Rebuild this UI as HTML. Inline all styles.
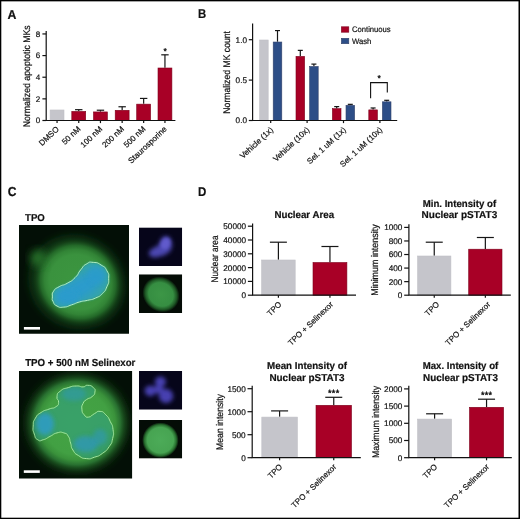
<!DOCTYPE html>
<html><head><meta charset="utf-8"><title>Figure</title>
<style>
html,body{margin:0;padding:0;background:#fff;}
body{width:520px;height:519px;overflow:hidden;position:relative;}
svg{position:absolute;left:0;top:0;display:block;filter:blur(0.35px);}
svg text{font-family:"Liberation Sans", sans-serif;fill:#111;stroke:#111;stroke-width:0.2px;text-rendering:geometricPrecision;}
.frame{position:absolute;left:0;top:0;width:520px;height:519px;box-sizing:border-box;border-style:solid;border-color:#000;border-width:1.4px 1.6px 1.4px 1.2px;}
</style></head><body>
<svg width="520" height="519" viewBox="0 0 520 519">

<defs>
<filter id="b1" x="-30%" y="-30%" width="160%" height="160%"><feGaussianBlur stdDeviation="1.2"/></filter>
<filter id="b2" x="-30%" y="-30%" width="160%" height="160%"><feGaussianBlur stdDeviation="2.2"/></filter>
<filter id="b3" x="-30%" y="-30%" width="160%" height="160%"><feGaussianBlur stdDeviation="4"/></filter>
<filter id="b15" x="-30%" y="-30%" width="160%" height="160%"><feGaussianBlur stdDeviation="1.6"/></filter>
<filter id="b5" x="-40%" y="-40%" width="180%" height="180%"><feGaussianBlur stdDeviation="5"/></filter>
<filter id="b05" x="-30%" y="-30%" width="160%" height="160%"><feGaussianBlur stdDeviation="0.45"/></filter>
<radialGradient id="g1" cx="50%" cy="50%" r="50%">
<stop offset="0" stop-color="#3c9640"/><stop offset="0.58" stop-color="#3a923e"/><stop offset="0.69" stop-color="#328436"/><stop offset="0.78" stop-color="#236828"/><stop offset="0.87" stop-color="#123c16" stop-opacity="0.7"/><stop offset="0.95" stop-color="#071e0b" stop-opacity="0.3"/><stop offset="1" stop-color="#030f06" stop-opacity="0"/>
</radialGradient>
<radialGradient id="g2" cx="50%" cy="50%" r="50%">
<stop offset="0" stop-color="#44a445"/><stop offset="0.6" stop-color="#42a043"/><stop offset="0.7" stop-color="#3a923b"/><stop offset="0.79" stop-color="#287030"/><stop offset="0.87" stop-color="#15441a" stop-opacity="0.7"/><stop offset="0.95" stop-color="#08220c" stop-opacity="0.3"/><stop offset="1" stop-color="#030f06" stop-opacity="0"/>
</radialGradient>
<radialGradient id="gs" cx="50%" cy="50%" r="50%">
<stop offset="0" stop-color="#3c9646"/><stop offset="0.66" stop-color="#368e42"/><stop offset="0.85" stop-color="#1d5624"/><stop offset="1" stop-color="#040c06"/>
</radialGradient>
<radialGradient id="gs2" cx="50%" cy="50%" r="50%">
<stop offset="0" stop-color="#4cab58"/><stop offset="0.72" stop-color="#47a452"/><stop offset="0.87" stop-color="#276e2e"/><stop offset="1" stop-color="#040c06"/>
</radialGradient>
<clipPath id="c1"><rect x="19" y="225.1" width="110" height="108.7"/></clipPath>
<clipPath id="c2"><rect x="19" y="370.9" width="113.1" height="107.6"/></clipPath>
<clipPath id="c3"><rect x="139" y="227.4" width="43.2" height="38.6"/></clipPath>
<clipPath id="c4"><rect x="139" y="274.3" width="43.2" height="38.8"/></clipPath>
<clipPath id="c5"><rect x="139" y="371" width="43.2" height="38.7"/></clipPath>
<clipPath id="c6"><rect x="139" y="419.9" width="43.2" height="38.7"/></clipPath>
<clipPath id="n1"><path d="M52.4 296.9C52.6 293.5 51.3 294.6 53.6 291.2C55.8 287.8 54.7 289.3 59.2 286.7C63.8 284.0 61.9 286.3 67.2 283.3C72.5 280.2 70.6 282.1 75.1 277.6C79.7 273.1 77.0 274.2 80.8 269.7C84.6 265.1 82.3 266.4 86.5 264.0C90.6 261.6 88.4 262.0 93.3 262.4C98.2 262.8 96.7 262.3 101.2 265.1C105.8 267.9 104.4 266.2 106.9 270.8C109.4 275.3 108.7 273.4 108.7 278.7C108.7 284.0 109.0 281.8 106.9 286.7C104.8 291.6 106.1 289.7 102.4 293.5C98.6 297.3 100.5 295.7 95.6 298.0C90.6 300.3 92.9 299.0 87.6 300.3C82.3 301.6 85.0 300.4 79.7 301.9C74.4 303.4 77.0 303.1 71.7 304.8C66.4 306.6 68.7 306.7 63.8 307.1C58.9 307.5 60.5 307.8 57.0 306.0C53.4 304.1 54.6 304.4 53.1 301.4C51.6 298.4 52.3 300.3 52.4 296.9Z"/></clipPath><clipPath id="n2"><path d="M57.0 396.6C57.6 392.9 56.6 394.0 60.4 391.0C64.2 387.9 63.0 389.2 68.3 387.6C73.6 385.9 71.3 386.2 76.3 386.0C81.2 385.7 79.3 387.1 83.1 386.9C86.9 386.6 84.2 385.1 87.6 385.3C91.0 385.5 90.9 385.3 93.3 387.6C95.7 389.8 95.3 389.1 94.9 392.1C94.5 395.1 94.9 394.1 92.1 396.6C89.4 399.1 89.5 397.3 86.5 399.6C83.5 401.9 84.6 400.3 83.1 403.4C81.6 406.6 81.6 405.3 81.9 409.1C82.3 412.9 81.9 412.1 84.2 414.8C86.5 417.4 85.3 417.4 88.7 417.1C92.1 416.7 90.6 415.5 94.4 413.7C98.2 411.8 96.3 411.0 100.1 411.4C103.9 411.8 102.4 411.4 105.8 414.8C109.2 418.2 107.9 416.7 110.3 421.6C112.7 426.5 112.3 423.9 113.0 429.5C113.8 435.2 113.9 432.9 112.6 438.6C111.3 444.3 112.6 441.6 109.2 446.6C105.8 451.5 107.3 449.8 102.4 453.4C97.4 456.9 99.7 455.5 94.4 457.2C89.1 459.0 91.8 459.1 86.5 458.6C81.2 458.1 83.1 458.5 78.5 455.6C74.0 452.8 75.5 454.1 72.9 450.0C70.2 445.8 72.1 447.7 70.6 443.1C69.1 438.6 70.6 439.7 68.3 436.3C66.1 432.9 67.6 434.1 63.8 432.9C60.0 431.8 61.5 431.8 57.0 432.9C52.4 434.1 54.7 434.1 50.2 436.3C45.6 438.6 47.5 438.6 43.4 439.7C39.2 440.9 40.7 441.6 37.7 439.7C34.7 437.9 35.8 438.6 34.3 434.1C32.8 429.5 32.8 431.4 33.2 426.1C33.5 420.8 32.8 422.7 35.4 418.2C38.1 413.7 36.6 415.5 41.1 412.5C45.6 409.5 44.1 411.0 49.0 409.1C54.0 407.2 52.7 409.1 55.8 406.8C59.0 404.6 58.2 405.7 58.6 402.3C58.9 398.9 56.4 400.4 57.0 396.6Z"/></clipPath></defs>

<text x="7.60" y="19.00" font-size="12.8" font-weight="bold" text-anchor="start" textLength="8.9" lengthAdjust="spacingAndGlyphs">A</text>
<text x="197.90" y="17.70" font-size="12.8" font-weight="bold" text-anchor="start" textLength="8.2" lengthAdjust="spacingAndGlyphs">B</text>
<text x="7.70" y="195.90" font-size="13.0" font-weight="bold" text-anchor="start" textLength="8.7" lengthAdjust="spacingAndGlyphs">C</text>
<text x="197.90" y="195.80" font-size="12.8" font-weight="bold" text-anchor="start" textLength="8.3" lengthAdjust="spacingAndGlyphs">D</text>
<rect x="50.10" y="109.98" width="13.90" height="10.52" fill="#c5c5cb" stroke="#c0c0c6" stroke-width="0.6"/>
<line x1="78.75" y1="111.09" x2="78.75" y2="109.68" stroke="#161616" stroke-width="1.2"/>
<line x1="75.05" y1="109.68" x2="82.45" y2="109.68" stroke="#161616" stroke-width="1.2"/>
<rect x="71.80" y="111.39" width="13.90" height="9.11" fill="#a80026" stroke="#7d001c" stroke-width="0.6"/>
<line x1="100.45" y1="111.63" x2="100.45" y2="110.22" stroke="#161616" stroke-width="1.2"/>
<line x1="96.75" y1="110.22" x2="104.15" y2="110.22" stroke="#161616" stroke-width="1.2"/>
<rect x="93.50" y="111.93" width="13.90" height="8.57" fill="#a80026" stroke="#7d001c" stroke-width="0.6"/>
<line x1="122.15" y1="110.00" x2="122.15" y2="106.76" stroke="#161616" stroke-width="1.2"/>
<line x1="118.45" y1="106.76" x2="125.85" y2="106.76" stroke="#161616" stroke-width="1.2"/>
<rect x="115.20" y="110.30" width="13.90" height="10.20" fill="#a80026" stroke="#7d001c" stroke-width="0.6"/>
<line x1="143.65" y1="103.84" x2="143.65" y2="98.43" stroke="#161616" stroke-width="1.2"/>
<line x1="139.95" y1="98.43" x2="147.35" y2="98.43" stroke="#161616" stroke-width="1.2"/>
<rect x="136.70" y="104.14" width="13.90" height="16.36" fill="#a80026" stroke="#7d001c" stroke-width="0.6"/>
<line x1="164.95" y1="67.70" x2="164.95" y2="54.82" stroke="#161616" stroke-width="1.2"/>
<line x1="161.25" y1="54.82" x2="168.65" y2="54.82" stroke="#161616" stroke-width="1.2"/>
<rect x="158.00" y="68.00" width="13.90" height="52.50" fill="#a80026" stroke="#7d001c" stroke-width="0.6"/>
<path d="M46.20 31.00V120.50H175.40" fill="none" stroke="#111" stroke-width="1.2"/>
<line x1="42.40" y1="120.50" x2="46.20" y2="120.50" stroke="#111" stroke-width="1.2"/>
<text x="40.10" y="123.38" font-size="8" text-anchor="end">0</text>
<line x1="42.40" y1="98.86" x2="46.20" y2="98.86" stroke="#111" stroke-width="1.2"/>
<text x="40.10" y="101.74" font-size="8" text-anchor="end">2</text>
<line x1="42.40" y1="77.22" x2="46.20" y2="77.22" stroke="#111" stroke-width="1.2"/>
<text x="40.10" y="80.10" font-size="8" text-anchor="end">4</text>
<line x1="42.40" y1="55.58" x2="46.20" y2="55.58" stroke="#111" stroke-width="1.2"/>
<text x="40.10" y="58.46" font-size="8" text-anchor="end">6</text>
<line x1="42.40" y1="33.94" x2="46.20" y2="33.94" stroke="#111" stroke-width="1.2"/>
<text x="40.10" y="36.82" font-size="8" text-anchor="end">8</text>
<line x1="57.05" y1="120.50" x2="57.05" y2="123.10" stroke="#111" stroke-width="1.2"/>
<text transform="translate(59.45 129.70) rotate(-43.5)" font-size="8" text-anchor="end">DMSO</text>
<line x1="78.75" y1="120.50" x2="78.75" y2="123.10" stroke="#111" stroke-width="1.2"/>
<text transform="translate(81.15 129.70) rotate(-43.5)" font-size="8" text-anchor="end">50 nM</text>
<line x1="100.45" y1="120.50" x2="100.45" y2="123.10" stroke="#111" stroke-width="1.2"/>
<text transform="translate(102.85 129.70) rotate(-43.5)" font-size="8" text-anchor="end">100 nM</text>
<line x1="122.15" y1="120.50" x2="122.15" y2="123.10" stroke="#111" stroke-width="1.2"/>
<text transform="translate(124.55 129.70) rotate(-43.5)" font-size="8" text-anchor="end">200 nM</text>
<line x1="143.65" y1="120.50" x2="143.65" y2="123.10" stroke="#111" stroke-width="1.2"/>
<text transform="translate(146.05 129.70) rotate(-43.5)" font-size="8" text-anchor="end">500 nM</text>
<line x1="164.95" y1="120.50" x2="164.95" y2="123.10" stroke="#111" stroke-width="1.2"/>
<text transform="translate(167.35 129.70) rotate(-43.5)" font-size="8" text-anchor="end">Staurosporine</text>
<text transform="translate(30.10 76.30) rotate(-90)" font-size="9.7" text-anchor="middle" textLength="102.0" lengthAdjust="spacingAndGlyphs">Normalized apoptotic MKs</text>
<text x="165.2" y="53.7" font-size="8.5" text-anchor="middle" style="stroke-width:0.35px">*</text>
<rect x="259.60" y="40.00" width="8.60" height="80.50" fill="#c5c5cb" stroke="#c0c0c6" stroke-width="0.6"/>
<line x1="277.50" y1="41.72" x2="277.50" y2="30.57" stroke="#161616" stroke-width="1.2"/>
<line x1="275.00" y1="30.57" x2="280.00" y2="30.57" stroke="#161616" stroke-width="1.2"/>
<rect x="273.20" y="42.02" width="8.60" height="78.48" fill="#2d4e87" stroke="#33436b" stroke-width="0.6"/>
<line x1="300.30" y1="56.10" x2="300.30" y2="50.37" stroke="#161616" stroke-width="1.2"/>
<line x1="297.80" y1="50.37" x2="302.80" y2="50.37" stroke="#161616" stroke-width="1.2"/>
<rect x="296.00" y="56.40" width="8.60" height="64.10" fill="#a80026" stroke="#7d001c" stroke-width="0.6"/>
<line x1="313.90" y1="66.20" x2="313.90" y2="64.10" stroke="#161616" stroke-width="1.2"/>
<line x1="311.40" y1="64.10" x2="316.40" y2="64.10" stroke="#161616" stroke-width="1.2"/>
<rect x="309.60" y="66.50" width="8.60" height="54.00" fill="#2d4e87" stroke="#33436b" stroke-width="0.6"/>
<line x1="336.70" y1="108.38" x2="336.70" y2="106.60" stroke="#161616" stroke-width="1.2"/>
<line x1="334.20" y1="106.60" x2="339.20" y2="106.60" stroke="#161616" stroke-width="1.2"/>
<rect x="332.40" y="108.68" width="8.60" height="11.82" fill="#a80026" stroke="#7d001c" stroke-width="0.6"/>
<line x1="350.30" y1="104.99" x2="350.30" y2="104.34" stroke="#161616" stroke-width="1.2"/>
<line x1="347.80" y1="104.34" x2="352.80" y2="104.34" stroke="#161616" stroke-width="1.2"/>
<rect x="346.00" y="105.29" width="8.60" height="15.21" fill="#2d4e87" stroke="#33436b" stroke-width="0.6"/>
<line x1="373.10" y1="109.59" x2="373.10" y2="107.98" stroke="#161616" stroke-width="1.2"/>
<line x1="370.60" y1="107.98" x2="375.60" y2="107.98" stroke="#161616" stroke-width="1.2"/>
<rect x="368.80" y="109.89" width="8.60" height="10.61" fill="#a80026" stroke="#7d001c" stroke-width="0.6"/>
<line x1="386.70" y1="101.51" x2="386.70" y2="100.30" stroke="#161616" stroke-width="1.2"/>
<line x1="384.20" y1="100.30" x2="389.20" y2="100.30" stroke="#161616" stroke-width="1.2"/>
<rect x="382.40" y="101.81" width="8.60" height="18.69" fill="#2d4e87" stroke="#33436b" stroke-width="0.6"/>
<path d="M252.60 23.60V120.50H397.20" fill="none" stroke="#111" stroke-width="1.2"/>
<line x1="248.80" y1="120.50" x2="252.60" y2="120.50" stroke="#111" stroke-width="1.2"/>
<text x="247.00" y="123.45" font-size="8.2" text-anchor="end">0.0</text>
<line x1="248.80" y1="80.10" x2="252.60" y2="80.10" stroke="#111" stroke-width="1.2"/>
<text x="247.00" y="83.05" font-size="8.2" text-anchor="end">0.5</text>
<line x1="248.80" y1="39.70" x2="252.60" y2="39.70" stroke="#111" stroke-width="1.2"/>
<text x="247.00" y="42.65" font-size="8.2" text-anchor="end">1.0</text>
<line x1="270.70" y1="120.50" x2="270.70" y2="123.10" stroke="#111" stroke-width="1.2"/>
<text transform="translate(273.60 130.50) rotate(-43)" font-size="8" text-anchor="end">Vehicle (1x)</text>
<line x1="307.10" y1="120.50" x2="307.10" y2="123.10" stroke="#111" stroke-width="1.2"/>
<text transform="translate(310.00 130.50) rotate(-43)" font-size="8" text-anchor="end">Vehicle (10x)</text>
<line x1="343.50" y1="120.50" x2="343.50" y2="123.10" stroke="#111" stroke-width="1.2"/>
<text transform="translate(346.40 130.50) rotate(-43)" font-size="8" text-anchor="end">Sel. 1 uM (1x)</text>
<line x1="379.90" y1="120.50" x2="379.90" y2="123.10" stroke="#111" stroke-width="1.2"/>
<text transform="translate(382.80 130.50) rotate(-43)" font-size="8" text-anchor="end">Sel. 1 uM (10x)</text>
<text transform="translate(229.60 72.35) rotate(-90)" font-size="9.7" text-anchor="middle" textLength="82.6" lengthAdjust="spacingAndGlyphs">Normalized MK count</text>
<rect x="341.4" y="26.8" width="7.4" height="5.4" fill="#a80026" stroke="#7d001c" stroke-width="0.6"/>
<rect x="341.4" y="38.3" width="7.4" height="5.4" fill="#2d4e87" stroke="#33436b" stroke-width="0.6"/>
<text x="352" y="32.1" font-size="8" textLength="38.7" lengthAdjust="spacingAndGlyphs">Continuous</text>
<text x="352" y="43.8" font-size="8" textLength="19.4" lengthAdjust="spacingAndGlyphs">Wash</text>
<path d="M370.6 98.2V82.6H387.3V92.5" fill="none" stroke="#111" stroke-width="1.1"/>
<text x="379.1" y="81.4" font-size="8.5" text-anchor="middle" style="stroke-width:0.35px">*</text>
<line x1="278.40" y1="259.70" x2="278.40" y2="242.20" stroke="#161616" stroke-width="1.2"/>
<line x1="269.90" y1="242.20" x2="286.90" y2="242.20" stroke="#161616" stroke-width="1.2"/>
<rect x="261.60" y="260.00" width="33.60" height="35.20" fill="#c5c5cb" stroke="#c0c0c6" stroke-width="0.6"/>
<line x1="329.95" y1="262.20" x2="329.95" y2="246.50" stroke="#161616" stroke-width="1.2"/>
<line x1="321.45" y1="246.50" x2="338.45" y2="246.50" stroke="#161616" stroke-width="1.2"/>
<rect x="313.00" y="262.50" width="33.90" height="32.70" fill="#a80026" stroke="#7d001c" stroke-width="0.6"/>
<path d="M252.60 223.60V295.20H356.00" fill="none" stroke="#111" stroke-width="1.2"/>
<line x1="247.90" y1="295.20" x2="252.60" y2="295.20" stroke="#111" stroke-width="1.2"/>
<text x="246.10" y="298.15" font-size="8.2" text-anchor="end">0</text>
<line x1="247.90" y1="281.40" x2="252.60" y2="281.40" stroke="#111" stroke-width="1.2"/>
<text x="246.10" y="284.35" font-size="8.2" text-anchor="end">10000</text>
<line x1="247.90" y1="267.60" x2="252.60" y2="267.60" stroke="#111" stroke-width="1.2"/>
<text x="246.10" y="270.55" font-size="8.2" text-anchor="end">20000</text>
<line x1="247.90" y1="253.80" x2="252.60" y2="253.80" stroke="#111" stroke-width="1.2"/>
<text x="246.10" y="256.75" font-size="8.2" text-anchor="end">30000</text>
<line x1="247.90" y1="240.00" x2="252.60" y2="240.00" stroke="#111" stroke-width="1.2"/>
<text x="246.10" y="242.95" font-size="8.2" text-anchor="end">40000</text>
<line x1="247.90" y1="226.20" x2="252.60" y2="226.20" stroke="#111" stroke-width="1.2"/>
<text x="246.10" y="229.15" font-size="8.2" text-anchor="end">50000</text>
<line x1="278.40" y1="295.20" x2="278.40" y2="297.80" stroke="#111" stroke-width="1.2"/>
<text transform="translate(282.10 305.00) rotate(-44)" font-size="8" text-anchor="end">TPO</text>
<line x1="329.95" y1="295.20" x2="329.95" y2="297.80" stroke="#111" stroke-width="1.2"/>
<text transform="translate(333.65 305.00) rotate(-44)" font-size="8" text-anchor="end">TPO + Selinexor</text>
<text transform="translate(218.40 259.05) rotate(-90)" font-size="9.7" text-anchor="middle" textLength="47.0" lengthAdjust="spacingAndGlyphs">Nuclear area</text>
<text x="304.30" y="218.20" font-size="10" font-weight="bold" text-anchor="middle" textLength="59.6" lengthAdjust="spacingAndGlyphs">Nuclear Area</text>
<line x1="434.25" y1="255.70" x2="434.25" y2="242.20" stroke="#161616" stroke-width="1.2"/>
<line x1="425.75" y1="242.20" x2="442.75" y2="242.20" stroke="#161616" stroke-width="1.2"/>
<rect x="417.60" y="256.00" width="33.30" height="39.20" fill="#c5c5cb" stroke="#c0c0c6" stroke-width="0.6"/>
<line x1="485.35" y1="248.90" x2="485.35" y2="237.50" stroke="#161616" stroke-width="1.2"/>
<line x1="476.85" y1="237.50" x2="493.85" y2="237.50" stroke="#161616" stroke-width="1.2"/>
<rect x="468.70" y="249.20" width="33.30" height="46.00" fill="#a80026" stroke="#7d001c" stroke-width="0.6"/>
<path d="M408.90 224.20V295.20H510.80" fill="none" stroke="#111" stroke-width="1.2"/>
<line x1="404.20" y1="295.20" x2="408.90" y2="295.20" stroke="#111" stroke-width="1.2"/>
<text x="402.40" y="298.15" font-size="8.2" text-anchor="end">0</text>
<line x1="404.20" y1="281.64" x2="408.90" y2="281.64" stroke="#111" stroke-width="1.2"/>
<text x="402.40" y="284.59" font-size="8.2" text-anchor="end">200</text>
<line x1="404.20" y1="268.08" x2="408.90" y2="268.08" stroke="#111" stroke-width="1.2"/>
<text x="402.40" y="271.03" font-size="8.2" text-anchor="end">400</text>
<line x1="404.20" y1="254.52" x2="408.90" y2="254.52" stroke="#111" stroke-width="1.2"/>
<text x="402.40" y="257.47" font-size="8.2" text-anchor="end">600</text>
<line x1="404.20" y1="240.96" x2="408.90" y2="240.96" stroke="#111" stroke-width="1.2"/>
<text x="402.40" y="243.91" font-size="8.2" text-anchor="end">800</text>
<line x1="404.20" y1="227.40" x2="408.90" y2="227.40" stroke="#111" stroke-width="1.2"/>
<text x="402.40" y="230.35" font-size="8.2" text-anchor="end">1000</text>
<line x1="434.25" y1="295.20" x2="434.25" y2="297.80" stroke="#111" stroke-width="1.2"/>
<text transform="translate(439.75 305.00) rotate(-44)" font-size="8" text-anchor="end">TPO</text>
<line x1="485.35" y1="295.20" x2="485.35" y2="297.80" stroke="#111" stroke-width="1.2"/>
<text transform="translate(490.85 305.00) rotate(-44)" font-size="8" text-anchor="end">TPO + Selinexor</text>
<text transform="translate(378.30 260.05) rotate(-90)" font-size="9.7" text-anchor="middle" textLength="71.4" lengthAdjust="spacingAndGlyphs">Minimum intensity</text>
<text x="459.40" y="206.50" font-size="10" font-weight="bold" text-anchor="middle" textLength="73.4" lengthAdjust="spacingAndGlyphs">Min. Intensity of</text>
<text x="459.40" y="218.10" font-size="10" font-weight="bold" text-anchor="middle" textLength="75.6" lengthAdjust="spacingAndGlyphs">Nuclear pSTAT3</text>
<line x1="279.60" y1="416.80" x2="279.60" y2="410.90" stroke="#161616" stroke-width="1.2"/>
<line x1="271.10" y1="410.90" x2="288.10" y2="410.90" stroke="#161616" stroke-width="1.2"/>
<rect x="261.80" y="417.10" width="35.60" height="40.60" fill="#c5c5cb" stroke="#c0c0c6" stroke-width="0.6"/>
<line x1="333.75" y1="405.00" x2="333.75" y2="397.30" stroke="#161616" stroke-width="1.2"/>
<line x1="325.25" y1="397.30" x2="342.25" y2="397.30" stroke="#161616" stroke-width="1.2"/>
<rect x="316.00" y="405.30" width="35.50" height="52.40" fill="#a80026" stroke="#7d001c" stroke-width="0.6"/>
<path d="M252.20 385.80V457.70H360.80" fill="none" stroke="#111" stroke-width="1.2"/>
<line x1="247.50" y1="457.70" x2="252.20" y2="457.70" stroke="#111" stroke-width="1.2"/>
<text x="245.70" y="460.65" font-size="8.2" text-anchor="end">0</text>
<line x1="247.50" y1="434.70" x2="252.20" y2="434.70" stroke="#111" stroke-width="1.2"/>
<text x="245.70" y="437.65" font-size="8.2" text-anchor="end">500</text>
<line x1="247.50" y1="411.70" x2="252.20" y2="411.70" stroke="#111" stroke-width="1.2"/>
<text x="245.70" y="414.65" font-size="8.2" text-anchor="end">1000</text>
<line x1="247.50" y1="388.70" x2="252.20" y2="388.70" stroke="#111" stroke-width="1.2"/>
<text x="245.70" y="391.65" font-size="8.2" text-anchor="end">1500</text>
<line x1="279.60" y1="457.70" x2="279.60" y2="460.30" stroke="#111" stroke-width="1.2"/>
<text transform="translate(282.80 467.50) rotate(-44)" font-size="8" text-anchor="end">TPO</text>
<line x1="333.75" y1="457.70" x2="333.75" y2="460.30" stroke="#111" stroke-width="1.2"/>
<text transform="translate(336.95 467.50) rotate(-44)" font-size="8" text-anchor="end">TPO + Selinexor</text>
<text transform="translate(222.60 422.00) rotate(-90)" font-size="9.7" text-anchor="middle" textLength="55.9" lengthAdjust="spacingAndGlyphs">Mean intensity</text>
<text x="307.00" y="368.90" font-size="10" font-weight="bold" text-anchor="middle" textLength="79.8" lengthAdjust="spacingAndGlyphs">Mean Intensity of</text>
<text x="307.00" y="380.70" font-size="10" font-weight="bold" text-anchor="middle" textLength="75.2" lengthAdjust="spacingAndGlyphs">Nuclear pSTAT3</text>
<text x="333.8" y="396.0" font-size="9" text-anchor="middle" style="stroke-width:0.4px;letter-spacing:0.35px">***</text>
<line x1="434.60" y1="418.80" x2="434.60" y2="413.80" stroke="#161616" stroke-width="1.2"/>
<line x1="426.10" y1="413.80" x2="443.10" y2="413.80" stroke="#161616" stroke-width="1.2"/>
<rect x="417.60" y="419.10" width="34.00" height="38.60" fill="#c5c5cb" stroke="#c0c0c6" stroke-width="0.6"/>
<line x1="486.55" y1="407.00" x2="486.55" y2="399.20" stroke="#161616" stroke-width="1.2"/>
<line x1="478.05" y1="399.20" x2="495.05" y2="399.20" stroke="#161616" stroke-width="1.2"/>
<rect x="469.50" y="407.30" width="34.10" height="50.40" fill="#a80026" stroke="#7d001c" stroke-width="0.6"/>
<path d="M408.80 385.80V457.70H511.80" fill="none" stroke="#111" stroke-width="1.2"/>
<line x1="404.10" y1="457.70" x2="408.80" y2="457.70" stroke="#111" stroke-width="1.2"/>
<text x="402.30" y="460.65" font-size="8.2" text-anchor="end">0</text>
<line x1="404.10" y1="440.50" x2="408.80" y2="440.50" stroke="#111" stroke-width="1.2"/>
<text x="402.30" y="443.45" font-size="8.2" text-anchor="end">500</text>
<line x1="404.10" y1="423.30" x2="408.80" y2="423.30" stroke="#111" stroke-width="1.2"/>
<text x="402.30" y="426.25" font-size="8.2" text-anchor="end">1000</text>
<line x1="404.10" y1="406.10" x2="408.80" y2="406.10" stroke="#111" stroke-width="1.2"/>
<text x="402.30" y="409.05" font-size="8.2" text-anchor="end">1500</text>
<line x1="404.10" y1="388.90" x2="408.80" y2="388.90" stroke="#111" stroke-width="1.2"/>
<text x="402.30" y="391.85" font-size="8.2" text-anchor="end">2000</text>
<line x1="434.60" y1="457.70" x2="434.60" y2="460.30" stroke="#111" stroke-width="1.2"/>
<text transform="translate(437.80 467.50) rotate(-44)" font-size="8" text-anchor="end">TPO</text>
<line x1="486.55" y1="457.70" x2="486.55" y2="460.30" stroke="#111" stroke-width="1.2"/>
<text transform="translate(489.75 467.50) rotate(-44)" font-size="8" text-anchor="end">TPO + Selinexor</text>
<text transform="translate(378.70 421.95) rotate(-90)" font-size="9.7" text-anchor="middle" textLength="72.2" lengthAdjust="spacingAndGlyphs">Maximum intensity</text>
<text x="460.50" y="368.90" font-size="10" font-weight="bold" text-anchor="middle" textLength="75.6" lengthAdjust="spacingAndGlyphs">Max. Intensity of</text>
<text x="460.50" y="380.70" font-size="10" font-weight="bold" text-anchor="middle" textLength="74.8" lengthAdjust="spacingAndGlyphs">Nuclear pSTAT3</text>
<text x="486.7" y="397.9" font-size="9" text-anchor="middle" style="stroke-width:0.4px;letter-spacing:0.35px">***</text>
<text x="25.00" y="221.00" font-size="10.0" font-weight="bold" text-anchor="start" textLength="19.8" lengthAdjust="spacingAndGlyphs">TPO</text>
<text x="25.20" y="365.80" font-size="10.2" font-weight="bold" text-anchor="start" textLength="110.2" lengthAdjust="spacingAndGlyphs">TPO + 500 nM Selinexor</text>
<g clip-path="url(#c1)">
<rect x="19" y="225" width="111" height="109" fill="#030f06"/>
<ellipse cx="77" cy="282" rx="47" ry="43" transform="rotate(35 77 282)" fill="#184e1d" filter="url(#b5)"/>
<ellipse cx="78" cy="282" rx="49.5" ry="46" transform="rotate(35 78 282)" fill="url(#g1)"/>
<ellipse cx="38" cy="258" rx="8" ry="8.5" fill="#2a7a2e" opacity="0.85" filter="url(#b3)"/>
<path d="M52.4 296.9C52.6 293.5 51.3 294.6 53.6 291.2C55.8 287.8 54.7 289.3 59.2 286.7C63.8 284.0 61.9 286.3 67.2 283.3C72.5 280.2 70.6 282.1 75.1 277.6C79.7 273.1 77.0 274.2 80.8 269.7C84.6 265.1 82.3 266.4 86.5 264.0C90.6 261.6 88.4 262.0 93.3 262.4C98.2 262.8 96.7 262.3 101.2 265.1C105.8 267.9 104.4 266.2 106.9 270.8C109.4 275.3 108.7 273.4 108.7 278.7C108.7 284.0 109.0 281.8 106.9 286.7C104.8 291.6 106.1 289.7 102.4 293.5C98.6 297.3 100.5 295.7 95.6 298.0C90.6 300.3 92.9 299.0 87.6 300.3C82.3 301.6 85.0 300.4 79.7 301.9C74.4 303.4 77.0 303.1 71.7 304.8C66.4 306.6 68.7 306.7 63.8 307.1C58.9 307.5 60.5 307.8 57.0 306.0C53.4 304.1 54.6 304.4 53.1 301.4C51.6 298.4 52.3 300.3 52.4 296.9Z" fill="#36a4a8" filter="url(#b1)"/>
<g clip-path="url(#n1)"><ellipse cx="80" cy="288" rx="27" ry="11" transform="rotate(-30 80 288)" fill="#2a9bcc" filter="url(#b3)"/><ellipse cx="68" cy="296" rx="11" ry="7" fill="#2a9bcc" filter="url(#b2)"/><ellipse cx="96" cy="275" rx="9" ry="9" fill="#2a9bcc" opacity="0.8" filter="url(#b2)"/></g>
<path d="M52.4 296.9C52.6 293.5 51.3 294.6 53.6 291.2C55.8 287.8 54.7 289.3 59.2 286.7C63.8 284.0 61.9 286.3 67.2 283.3C72.5 280.2 70.6 282.1 75.1 277.6C79.7 273.1 77.0 274.2 80.8 269.7C84.6 265.1 82.3 266.4 86.5 264.0C90.6 261.6 88.4 262.0 93.3 262.4C98.2 262.8 96.7 262.3 101.2 265.1C105.8 267.9 104.4 266.2 106.9 270.8C109.4 275.3 108.7 273.4 108.7 278.7C108.7 284.0 109.0 281.8 106.9 286.7C104.8 291.6 106.1 289.7 102.4 293.5C98.6 297.3 100.5 295.7 95.6 298.0C90.6 300.3 92.9 299.0 87.6 300.3C82.3 301.6 85.0 300.4 79.7 301.9C74.4 303.4 77.0 303.1 71.7 304.8C66.4 306.6 68.7 306.7 63.8 307.1C58.9 307.5 60.5 307.8 57.0 306.0C53.4 304.1 54.6 304.4 53.1 301.4C51.6 298.4 52.3 300.3 52.4 296.9Z" fill="none" stroke="#b4f0c4" stroke-width="1.0" filter="url(#b05)"/>
<rect x="23.9" y="327.0" width="16.1" height="2.6" fill="#fff"/>
</g>
<g clip-path="url(#c2)">
<rect x="19" y="370" width="114" height="109" fill="#030f06"/>
<ellipse cx="77" cy="423" rx="50" ry="48" fill="#1a521f" filter="url(#b5)"/>
<ellipse cx="77" cy="423" rx="55" ry="53" fill="url(#g2)"/>
<g clip-path="url(#n2)"><path d="M57.0 396.6C57.6 392.9 56.6 394.0 60.4 391.0C64.2 387.9 63.0 389.2 68.3 387.6C73.6 385.9 71.3 386.2 76.3 386.0C81.2 385.7 79.3 387.1 83.1 386.9C86.9 386.6 84.2 385.1 87.6 385.3C91.0 385.5 90.9 385.3 93.3 387.6C95.7 389.8 95.3 389.1 94.9 392.1C94.5 395.1 94.9 394.1 92.1 396.6C89.4 399.1 89.5 397.3 86.5 399.6C83.5 401.9 84.6 400.3 83.1 403.4C81.6 406.6 81.6 405.3 81.9 409.1C82.3 412.9 81.9 412.1 84.2 414.8C86.5 417.4 85.3 417.4 88.7 417.1C92.1 416.7 90.6 415.5 94.4 413.7C98.2 411.8 96.3 411.0 100.1 411.4C103.9 411.8 102.4 411.4 105.8 414.8C109.2 418.2 107.9 416.7 110.3 421.6C112.7 426.5 112.3 423.9 113.0 429.5C113.8 435.2 113.9 432.9 112.6 438.6C111.3 444.3 112.6 441.6 109.2 446.6C105.8 451.5 107.3 449.8 102.4 453.4C97.4 456.9 99.7 455.5 94.4 457.2C89.1 459.0 91.8 459.1 86.5 458.6C81.2 458.1 83.1 458.5 78.5 455.6C74.0 452.8 75.5 454.1 72.9 450.0C70.2 445.8 72.1 447.7 70.6 443.1C69.1 438.6 70.6 439.7 68.3 436.3C66.1 432.9 67.6 434.1 63.8 432.9C60.0 431.8 61.5 431.8 57.0 432.9C52.4 434.1 54.7 434.1 50.2 436.3C45.6 438.6 47.5 438.6 43.4 439.7C39.2 440.9 40.7 441.6 37.7 439.7C34.7 437.9 35.8 438.6 34.3 434.1C32.8 429.5 32.8 431.4 33.2 426.1C33.5 420.8 32.8 422.7 35.4 418.2C38.1 413.7 36.6 415.5 41.1 412.5C45.6 409.5 44.1 411.0 49.0 409.1C54.0 407.2 52.7 409.1 55.8 406.8C59.0 404.6 58.2 405.7 58.6 402.3C58.9 398.9 56.4 400.4 57.0 396.6Z" fill="#34a078" opacity="0.7" filter="url(#b1)"/>
<ellipse cx="45" cy="424" rx="9" ry="11" fill="#2f9cc8" opacity="0.85" filter="url(#b2)"/>
<ellipse cx="86" cy="444" rx="12" ry="8" fill="#2f96c0" opacity="0.7" filter="url(#b2)"/>
<ellipse cx="100" cy="437" rx="7" ry="8" fill="#2f96c0" opacity="0.55" filter="url(#b2)"/>
<ellipse cx="74" cy="394" rx="12" ry="7" fill="#2f98b4" opacity="0.55" filter="url(#b2)"/></g>
<path d="M57.0 396.6C57.6 392.9 56.6 394.0 60.4 391.0C64.2 387.9 63.0 389.2 68.3 387.6C73.6 385.9 71.3 386.2 76.3 386.0C81.2 385.7 79.3 387.1 83.1 386.9C86.9 386.6 84.2 385.1 87.6 385.3C91.0 385.5 90.9 385.3 93.3 387.6C95.7 389.8 95.3 389.1 94.9 392.1C94.5 395.1 94.9 394.1 92.1 396.6C89.4 399.1 89.5 397.3 86.5 399.6C83.5 401.9 84.6 400.3 83.1 403.4C81.6 406.6 81.6 405.3 81.9 409.1C82.3 412.9 81.9 412.1 84.2 414.8C86.5 417.4 85.3 417.4 88.7 417.1C92.1 416.7 90.6 415.5 94.4 413.7C98.2 411.8 96.3 411.0 100.1 411.4C103.9 411.8 102.4 411.4 105.8 414.8C109.2 418.2 107.9 416.7 110.3 421.6C112.7 426.5 112.3 423.9 113.0 429.5C113.8 435.2 113.9 432.9 112.6 438.6C111.3 444.3 112.6 441.6 109.2 446.6C105.8 451.5 107.3 449.8 102.4 453.4C97.4 456.9 99.7 455.5 94.4 457.2C89.1 459.0 91.8 459.1 86.5 458.6C81.2 458.1 83.1 458.5 78.5 455.6C74.0 452.8 75.5 454.1 72.9 450.0C70.2 445.8 72.1 447.7 70.6 443.1C69.1 438.6 70.6 439.7 68.3 436.3C66.1 432.9 67.6 434.1 63.8 432.9C60.0 431.8 61.5 431.8 57.0 432.9C52.4 434.1 54.7 434.1 50.2 436.3C45.6 438.6 47.5 438.6 43.4 439.7C39.2 440.9 40.7 441.6 37.7 439.7C34.7 437.9 35.8 438.6 34.3 434.1C32.8 429.5 32.8 431.4 33.2 426.1C33.5 420.8 32.8 422.7 35.4 418.2C38.1 413.7 36.6 415.5 41.1 412.5C45.6 409.5 44.1 411.0 49.0 409.1C54.0 407.2 52.7 409.1 55.8 406.8C59.0 404.6 58.2 405.7 58.6 402.3C58.9 398.9 56.4 400.4 57.0 396.6Z" fill="none" stroke="#a6eaa6" stroke-width="0.95" filter="url(#b05)"/>
<rect x="23.8" y="470.3" width="16.0" height="2.6" fill="#fff"/>
</g>
<g clip-path="url(#c3)">
<rect x="139" y="227.4" width="43.2" height="38.6" fill="#06051a"/>
<path d="M149.1 252.9C149.1 250.0 149.9 250.8 152.8 248.4C155.7 245.9 155.2 248.4 157.8 245.6C160.4 242.9 158.5 243.2 160.5 240.2C162.6 237.3 161.1 237.7 164.0 236.8C166.8 235.9 166.5 235.4 169.1 237.5C171.7 239.5 171.2 239.0 171.8 242.9C172.4 246.9 172.6 245.6 170.9 249.3C169.2 252.9 170.4 251.4 166.7 253.8C163.0 256.2 164.3 255.4 159.6 256.5C155.0 257.6 156.3 258.3 152.8 257.1C149.3 255.9 149.1 255.8 149.1 252.9Z" fill="#4c47b0" filter="url(#b2)"/>
<ellipse cx="165.5" cy="243.5" rx="4.5" ry="6" transform="rotate(25 165.5 243.5)" fill="#6a64d8" opacity="0.7" filter="url(#b15)"/>
</g>
<g clip-path="url(#c4)">
<rect x="139" y="274.3" width="43.2" height="38.8" fill="#040c06"/>
<ellipse cx="161.0" cy="294.4" rx="19.2" ry="17.2" fill="url(#gs)" transform="rotate(35 161 294.4)"/>
</g>
<g clip-path="url(#c5)">
<rect x="139" y="371" width="43.2" height="38.7" fill="#06051a"/>
<g filter="url(#b2)" fill="#4640b0"><ellipse cx="160.4" cy="381.8" rx="5.6" ry="5.2"/><ellipse cx="150.4" cy="390.8" rx="5.8" ry="5.4"/><ellipse cx="166" cy="396" rx="7.2" ry="7.2"/><ellipse cx="158.5" cy="389.5" rx="5" ry="4"/></g>
</g>
<g clip-path="url(#c6)">
<rect x="139" y="419.9" width="43.2" height="38.7" fill="#040c06"/>
<ellipse cx="160.4" cy="440.2" rx="18.3" ry="17.8" fill="url(#gs2)"/>
</g>
<rect x="0" y="0" width="520" height="1.35" fill="#000"/><rect x="0" y="517.7" width="520" height="1.3" fill="#000"/><rect x="0" y="0" width="1.3" height="519" fill="#000"/><rect x="518.5" y="0" width="1.5" height="519" fill="#000"/>
</svg>
</body></html>
